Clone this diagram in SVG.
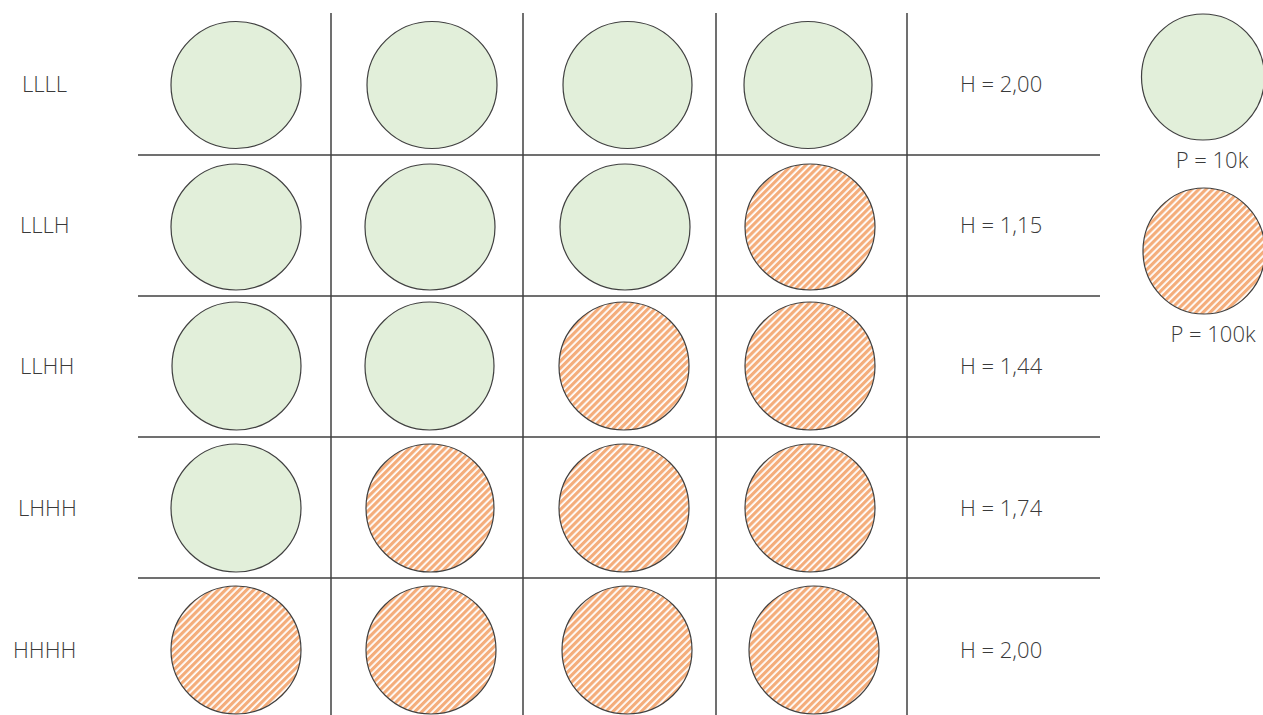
<svg xmlns="http://www.w3.org/2000/svg" width="1263" height="715" viewBox="0 0 1263 715">
<defs>
<pattern id="hatch" patternUnits="userSpaceOnUse" width="5" height="5" patternTransform="rotate(45)">
<rect width="5" height="5" fill="#ffffff"/>
<rect width="3.2" height="5" fill="#F4AD7B"/>
</pattern>
</defs>
<style>
.g{fill:#E2EFDA;stroke:#404040;stroke-width:1.2}
.h{fill:url(#hatch);stroke:#404040;stroke-width:1.2}
.ln{stroke:#404040;stroke-width:1.5}
text{font-family:"Open Sans","Liberation Sans",sans-serif;font-weight:300;font-size:22px;fill:#3a3a3a}
.c{text-anchor:middle}
</style>
<rect width="1263" height="715" fill="#ffffff"/>
<g id="grid">
<line class="ln" x1="331" y1="13" x2="331" y2="715"/>
<line class="ln" x1="523" y1="13" x2="523" y2="715"/>
<line class="ln" x1="716" y1="13" x2="716" y2="715"/>
<line class="ln" x1="907" y1="13" x2="907" y2="715"/>
<line class="ln" x1="138" y1="155" x2="1100" y2="155"/>
<line class="ln" x1="138" y1="296" x2="1100" y2="296"/>
<line class="ln" x1="138" y1="437" x2="1100" y2="437"/>
<line class="ln" x1="138" y1="578" x2="1100" y2="578"/>
</g>
<g id="row1">
<text x="22" y="92">LLLL</text>
<ellipse class="g" cx="236" cy="85" rx="65" ry="63.5"/>
<ellipse class="g" cx="432" cy="85" rx="65" ry="63.5"/>
<ellipse class="g" cx="627.5" cy="85" rx="64.5" ry="63.5"/>
<ellipse class="g" cx="808" cy="85" rx="64" ry="63.5"/>
<text x="960" y="92">H = 2,00</text>
</g>
<g id="row2">
<text x="20" y="233">LLLH</text>
<ellipse class="g" cx="236" cy="227" rx="65" ry="63"/>
<ellipse class="g" cx="430" cy="227" rx="65" ry="63"/>
<ellipse class="g" cx="625" cy="227" rx="65" ry="63"/>
<ellipse class="h" cx="810" cy="227" rx="65" ry="63"/>
<text x="960" y="233">H = 1,15</text>
</g>
<g id="row3">
<text x="20" y="374">LLHH</text>
<ellipse class="g" cx="236.5" cy="366" rx="64.5" ry="64"/>
<ellipse class="g" cx="429.5" cy="366" rx="64.5" ry="64"/>
<ellipse class="h" cx="624" cy="366" rx="65" ry="64"/>
<ellipse class="h" cx="810" cy="366" rx="65" ry="64"/>
<text x="960" y="374">H = 1,44</text>
</g>
<g id="row4">
<text x="18" y="516">LHHH</text>
<ellipse class="g" cx="236" cy="508" rx="65" ry="64"/>
<ellipse class="h" cx="430" cy="508" rx="64" ry="64"/>
<ellipse class="h" cx="624" cy="508" rx="65" ry="64"/>
<ellipse class="h" cx="810" cy="508" rx="65" ry="64"/>
<text x="960" y="516">H = 1,74</text>
</g>
<g id="row5">
<text x="13" y="658">HHHH</text>
<ellipse class="h" cx="236" cy="650" rx="65" ry="64"/>
<ellipse class="h" cx="431" cy="650" rx="65" ry="64"/>
<ellipse class="h" cx="627" cy="650" rx="65" ry="64"/>
<ellipse class="h" cx="814" cy="650" rx="65" ry="64"/>
<text x="960" y="658">H = 2,00</text>
</g>
<g id="legend-10k">
<ellipse class="g" cx="1203" cy="77" rx="61.5" ry="63"/>
<text class="c" x="1212" y="168">P = 10k</text>
</g>
<g id="legend-100k">
<ellipse class="h" cx="1204" cy="251" rx="61" ry="63"/>
<text class="c" x="1213" y="342">P = 100k</text>
</g>
</svg>
